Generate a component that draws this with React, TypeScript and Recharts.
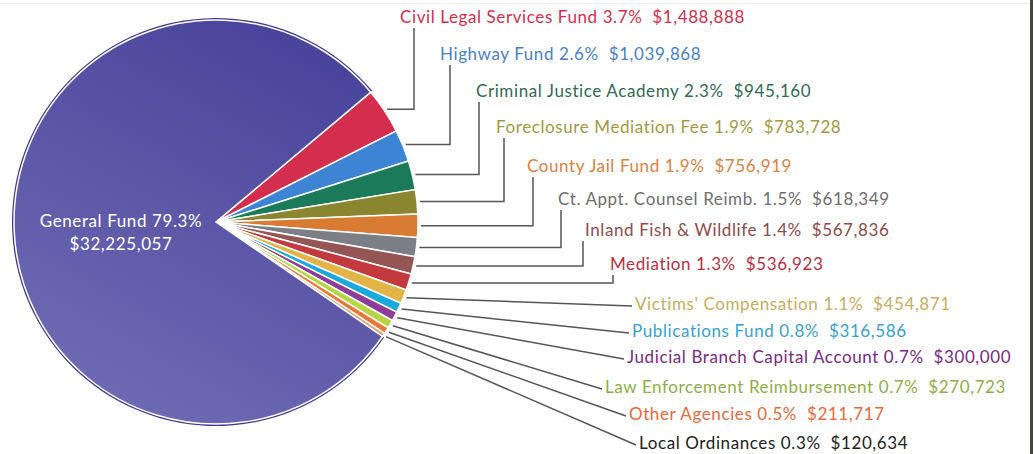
import { PieChart, Pie, Cell } from 'recharts';

const names = [
  'Civil Legal Services Fund',
  'Highway Fund',
  'Criminal Justice Academy',
  'Foreclosure Mediation Fee',
  'County Jail Fund',
  'Ct. Appt. Counsel Reimb.',
  'Inland Fish & Wildlife',
  'Mediation',
  "Victims' Compensation",
  'Publications Fund',
  'Judicial Branch Capital Account',
  'Law Enforcement Reimbursement',
  'Other Agencies',
  'Local Ordinances',
  'General Fund',
];
const shares = ['3.7%', '2.6%', '2.3%', '1.9%', '1.9%', '1.5%', '1.4%', '1.3%', '1.1%', '0.8%', '0.7%', '0.7%', '0.5%', '0.3%', '79.3%'];
const amounts = [
  1488888, 1039868, 945160, 783728, 756919, 618349, 567836, 536923,
  454871, 316586, 300000, 270723, 211717, 120634, 32225057,
];

const sliceColors = [
  '#d42e4e', '#3d85d4', '#1a7a5a', '#8a8630', '#d97b32', '#7c7f86', '#955555', '#c4393e',
  '#e2b445', '#1aa9dc', '#8e3c9a', '#b6d444', '#e8773a', '#e0a070', 'url(#generalFill)',
];
const textColors = [
  '#cf2f4e', '#4a7fc7', '#2f6a55', '#a09a40', '#d9823f', '#6e6e6e', '#8e4a4a', '#b5303f',
  '#c4ae62', '#3aa0d0', '#7a2a82', '#8fae48', '#e56a3c', '#222222', '#ffffff',
];

// where each callout text sits (left x, baseline y); elbow = x of the vertical leader
const labelLayout = [
  { x: 400, y: 23, elbow: 414 },
  { x: 440, y: 60, elbow: 450 },
  { x: 476, y: 97, elbow: 479 },
  { x: 496, y: 133, elbow: 504 },
  { x: 527, y: 172, elbow: 533 },
  { x: 558, y: 205, elbow: 561 },
  { x: 585, y: 236, elbow: 583 },
  { x: 610, y: 270, elbow: 613 },
  { x: 635, y: 310 },
  { x: 632, y: 337 },
  { x: 627, y: 363 },
  { x: 605, y: 393 },
  { x: 629, y: 420 },
  { x: 639, y: 449 },
];

const data = names.map((name, i) => ({ name, share: shares[i], value: amounts[i] }));

const fmt = (v: number) => '$' + v.toLocaleString('en-US');
const RAD = Math.PI / 180;
const FONT = 'Lato, sans-serif';

const renderLabel = (props: any) => {
  const { cx, cy, midAngle, outerRadius, index } = props;
  const d = data[index];
  if (index === data.length - 1) {
    return (
      <text x={121} y={227} fill="#fff" fontSize={17} letterSpacing={0.6} textAnchor="middle" fontFamily={FONT}>
        <tspan x={121} dy={0}>{`${d.name} ${d.share}`}</tspan>
        <tspan x={121} dy={23}>{fmt(d.value)}</tspan>
      </text>
    );
  }
  const pos = labelLayout[index];
  const r = outerRadius + 3;
  const sx = cx + r * Math.cos(-midAngle * RAD);
  const sy = cy + r * Math.sin(-midAngle * RAD);
  const pts = pos.elbow !== undefined
    ? `${sx},${sy} ${pos.elbow},${sy} ${pos.elbow},${pos.y + 5}`
    : `${sx},${sy} ${pos.x - 3},${pos.y - 4}`;
  return (
    <g>
      <polyline points={pts} fill="none" stroke="#555" strokeWidth={1.5} />
      <text
        x={pos.x}
        y={pos.y}
        fill={textColors[index]}
        fontSize={17}
        letterSpacing={0.6}
        fontFamily={FONT}
        style={{ whiteSpace: 'pre' }}
      >
        {`${d.name} ${d.share}  ${fmt(d.value)}`}
      </text>
    </g>
  );
};

export default function App() {
  return (
    <div style={{ position: 'fixed', left: 0, top: 0, width: 1034, height: 454, background: '#fff', overflow: 'hidden' }}>
      <PieChart width={1034} height={454} margin={{ top: 0, right: 0, bottom: 0, left: 0 }}>
        <defs>
          <linearGradient id="generalFill" x1="0.8" y1="0" x2="0.3" y2="1">
            <stop offset="0%" stopColor="#47429a" />
            <stop offset="100%" stopColor="#6f6bb3" />
          </linearGradient>
        </defs>
        <Pie
          data={data}
          dataKey="value"
          cx={216}
          cy={222}
          outerRadius={204}
          startAngle={40}
          endAngle={-320}
          stroke="none"
          isAnimationActive={false}
          labelLine={false}
        >
          {data.map((d, i) => (
            <Cell key={d.name} fill={i === data.length - 1 ? '#3c3793' : 'none'} />
          ))}
        </Pie>
        <Pie
          data={data}
          dataKey="value"
          cx={216}
          cy={222}
          outerRadius={202}
          startAngle={40}
          endAngle={-320}
          stroke="#fff"
          strokeWidth={1.5}
          isAnimationActive={false}
          labelLine={false}
          label={renderLabel}
        >
          {data.map((d, i) => (
            <Cell key={d.name} fill={sliceColors[i]} />
          ))}
        </Pie>
      </PieChart>
      <div style={{ position: 'absolute', left: 0, top: 3, width: 1030, height: 1, background: '#f0efea' }} />
      <div style={{ position: 'absolute', left: 1030, top: 0, width: 3, height: 454, background: '#45453f' }} />
    </div>
  );
}
